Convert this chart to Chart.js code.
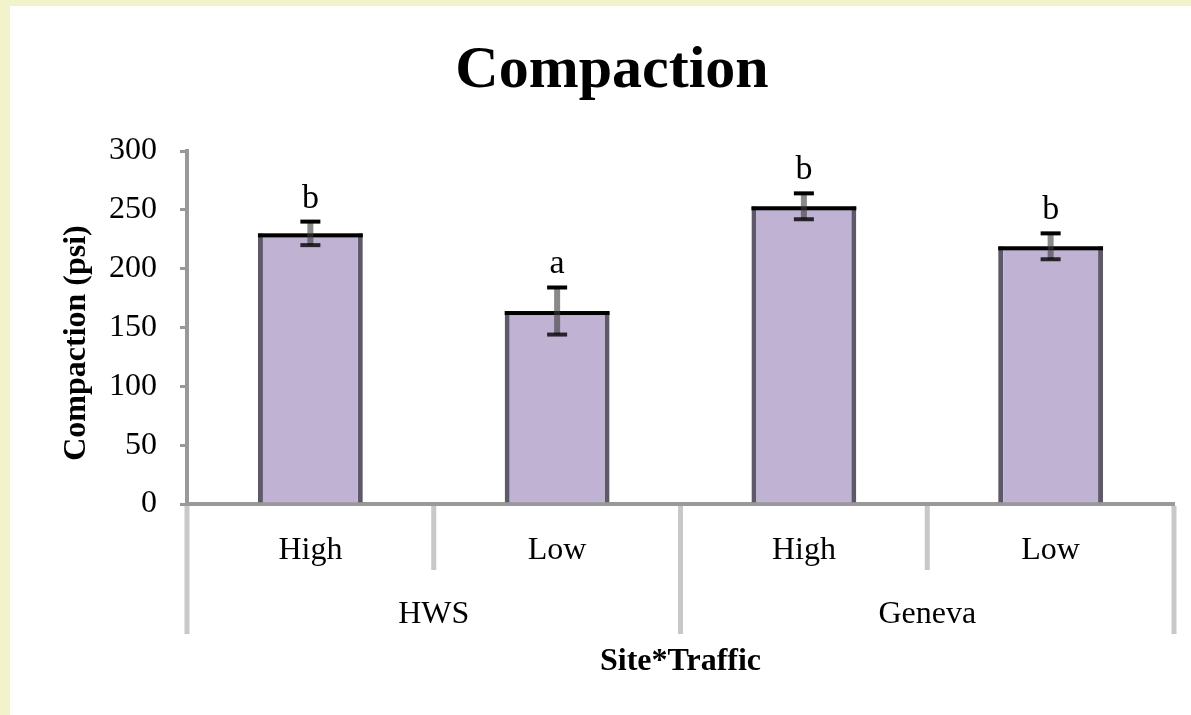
<!DOCTYPE html>
<html>
<head>
<meta charset="utf-8">
<title>Compaction</title>
<script src="https://cdn.jsdelivr.net/npm/chart.js@4/dist/chart.umd.min.js"></script>
<style>
  html, body { margin: 0; padding: 0; }
  body { background: #f3f3cb; width: 1191px; height: 715px; overflow: hidden; }
  .panel { position: absolute; left: 10px; top: 6px; width: 1181px; height: 709px; background: #fff; }
</style>
</head>
<body>
<div class="panel"><canvas id="chart" width="1181" height="709"></canvas></div>
<script>
// Data
const sites = ["HWS", "Geneva"];
const traffic = ["High", "Low", "High", "Low"];
const compaction = [230, 164, 253, 219];
const stdErr = [10, 20, 11, 11];
const letters = ["b", "a", "b", "b"];
const yTicks = [0, 50, 100, 150, 200, 250, 300];

const serif = '"Liberation Serif", "Times New Roman", serif';

// Error bars, letters, group labels and titles
const extras = {
  id: "extras",
  afterDatasetsDraw(chart) {
    const { ctx, chartArea, scales } = chart;
    const y = scales.y;
    const meta = chart.getDatasetMeta(0);
    ctx.save();

    meta.data.forEach((bar, i) => {
      const { x, width } = bar.getProps(["x", "width"], true);
      const top = y.getPixelForValue(compaction[i]);
      // black top edge
      ctx.fillStyle = "#000";
      ctx.fillRect(x - width / 2, top, width, 4);

      const hi = y.getPixelForValue(compaction[i] + stdErr[i]);
      const lo = y.getPixelForValue(compaction[i] - stdErr[i]);
      ctx.fillStyle = "rgba(60,60,60,0.6)";
      ctx.fillRect(x - 3, hi, 6, lo - hi);
      ctx.fillStyle = "#000";
      ctx.fillRect(x - 10, hi - 2, 20, 4);
      ctx.fillStyle = "rgba(0,0,0,0.8)";
      ctx.fillRect(x - 10, lo - 2, 20, 4);

      ctx.fillStyle = "#000";
      ctx.font = "34px " + serif;
      ctx.textAlign = "center";
      ctx.textBaseline = "alphabetic";
      ctx.fillText(letters[i], x, hi - 14);
    });

    // category separators below the axis
    const n = traffic.length;
    const step = (chartArea.right - chartArea.left) / n;
    ctx.fillStyle = "#c8c8c8";
    for (let i = 0; i <= n; i++) {
      const bx = chartArea.left + i * step;
      const len = i % 2 === 0 ? 128 : 64;
      ctx.fillRect(bx - 2.5, chartArea.bottom + 2, 5, len);
    }

    ctx.fillStyle = "#000";
    ctx.textAlign = "center";
    ctx.textBaseline = "middle";
    ctx.font = "32px " + serif;
    traffic.forEach((t, i) => {
      ctx.fillText(t, chartArea.left + (i + 0.5) * step, chartArea.bottom + 47);
    });
    sites.forEach((s, i) => {
      ctx.fillText(s, chartArea.left + (i * 2 + 1) * step, chartArea.bottom + 111);
    });

    ctx.font = "bold 32px " + serif;
    ctx.fillText("Site*Traffic", (chartArea.left + chartArea.right) / 2, chartArea.bottom + 158);

    ctx.font = "bold 60px " + serif;
    ctx.fillText("Compaction", 602, 65);

    ctx.translate(67, 337);
    ctx.rotate(-Math.PI / 2);
    ctx.font = "bold 32px " + serif;
    ctx.fillText("Compaction (psi)", 0, 0);
    ctx.restore();
  }
};

new Chart(document.getElementById("chart"), {
  type: "bar",
  data: {
    labels: traffic,
    datasets: [
      {
        data: compaction,
        backgroundColor: "#c0b2d2",
        borderColor: "#5e5968",
        borderWidth: { left: 5, right: 5, top: 0, bottom: 0 },
        categoryPercentage: 1,
        barPercentage: 0.425,
      },
    ],
  },
  options: {
    responsive: false,
    animation: false,
    layout: { padding: { top: 145, right: 17, left: 0, bottom: 0 } },
    plugins: {
      legend: { display: false },
      title: { display: false },
      tooltip: { enabled: false },
    },
    scales: {
      x: {
        grid: { display: false },
        border: { color: "#999", width: 4 },
        ticks: { display: false },
        afterFit: (scale) => { scale.height = 211; },
      },
      y: {
        min: 0,
        max: 300,
        afterBuildTicks: (scale) => { scale.ticks = yTicks.map((v) => ({ value: v })); },
        grid: { drawOnChartArea: false, drawTicks: true, tickLength: 7, color: "#999", lineWidth: 3 },
        border: { color: "#999", width: 4 },
        ticks: { autoSkip: false, padding: 23, color: "#000", font: { family: serif, size: 32 } },
        afterFit: (scale) => { scale.width = 177; },
      },
    },
  },
  plugins: [extras],
});
</script>
</body>
</html>
